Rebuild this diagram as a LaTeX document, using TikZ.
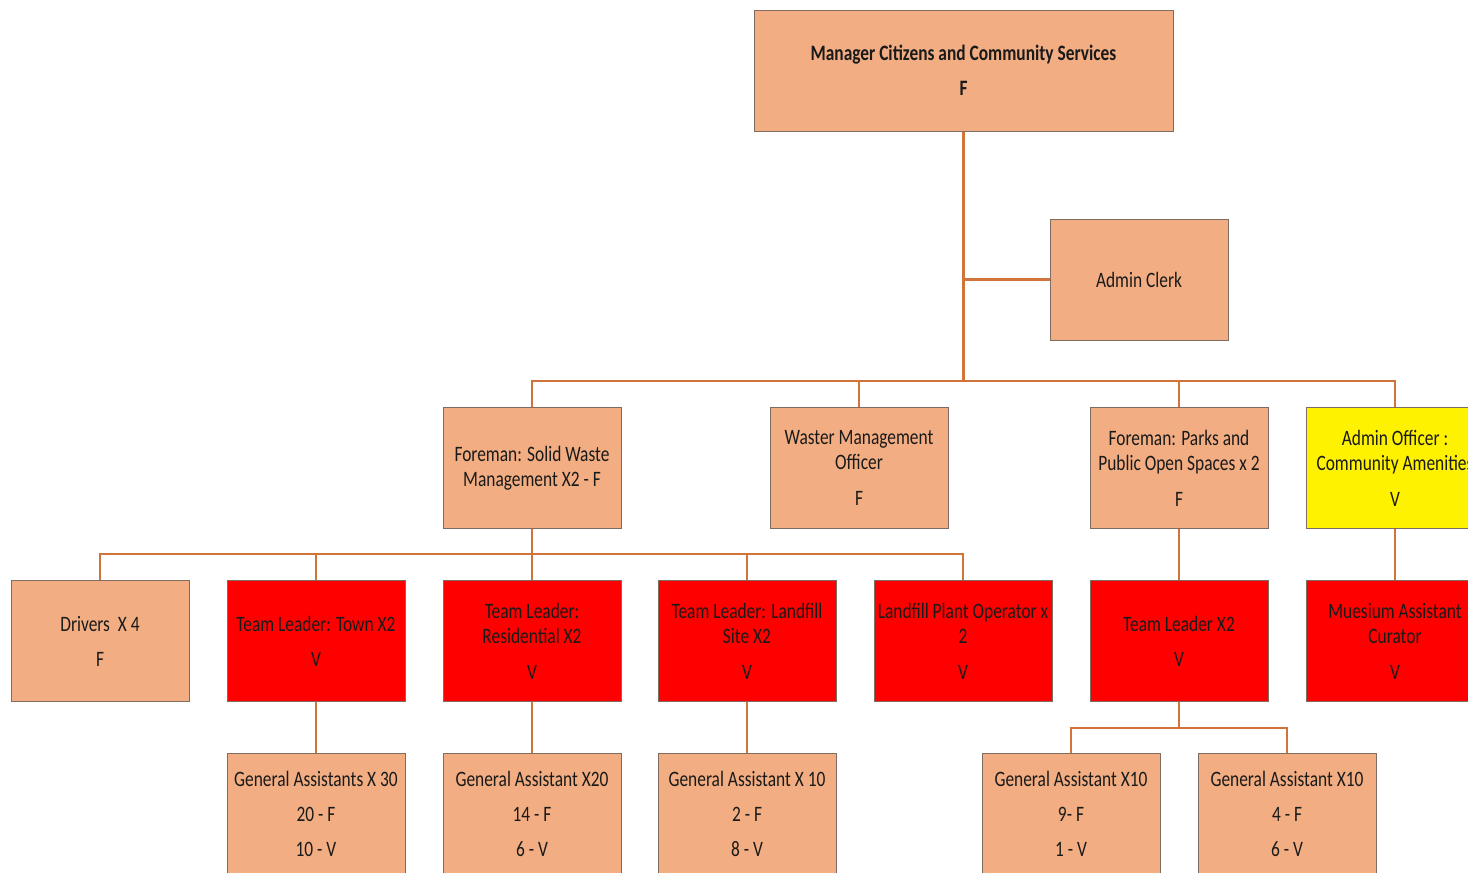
\documentclass[tikz,border=0pt]{standalone}
\usepackage{fontspec}
\setmainfont{Carlito}[FakeStretch=0.79]
\definecolor{peach}{HTML}{F2AE82}
\definecolor{boxline}{HTML}{7F6D62}
\definecolor{linkcol}{HTML}{D0743C}
\definecolor{textcol}{HTML}{1A1A1A}
\begin{document}
\begin{tikzpicture}[x=1pt,y=-1pt,
  box/.style={draw=boxline, line width=1pt, minimum width=178pt, minimum height=121pt,
    inner sep=0pt, align=center, font=\fontsize{22}{25}\selectfont, text=textcol},
  peachbox/.style={box, fill=peach},
  redbox/.style={box, fill=red},
  yellowbox/.style={box, fill=yellow},
  link/.style={draw=linkcol, line width=2.5pt}]
\useasboundingbox (0,0) rectangle (1468,873);
\clip (0,0) rectangle (1468,873);

% top level
\node[peachbox, minimum width=419pt, font=\fontsize{22}{25}\selectfont\bfseries] (mgr) at (963.5,70.5)
  {Manager Citizens and Community Services\\[10pt]F};
\node[peachbox] (clerk) at (1139,279.5) {Admin Clerk};

% second level
\node[peachbox] (fsw) at (532,468) {Foreman: Solid Waste\\Management X2 - F};
\node[peachbox] (wmo) at (859,468) {Waster Management\\Officer\\[11pt]F};
\node[peachbox] (fpk) at (1179,468) {Foreman: Parks and\\Public Open Spaces x 2\\[11pt]F};
\node[yellowbox] (aoc) at (1395,468) {Admin Officer :\\Community Amenities\\[11pt]V};

% third level
\node[peachbox] (drv) at (100,641) {Drivers~ X 4\\[10pt]F};
\node[redbox] (tlt) at (316,641) {Team Leader: Town X2\\[10pt]V};
\node[redbox] (tlr) at (532,641) {Team Leader:\\Residential X2\\[11pt]V};
\node[redbox] (tll) at (747,641) {Team Leader: Landfill\\Site X2\\[11pt]V};
\node[redbox] (lpo) at (963,641) {Landfill Plant Operator x\\2\\[11pt]V};
\node[redbox] (tl2) at (1179,641) {Team Leader X2\\[10pt]V};
\node[redbox] (mus) at (1395,641) {Muesium Assistant\\Curator\\[11pt]V};

% fourth level
\node[peachbox] (ga30) at (316,813.5) {General Assistants X 30\\[10pt]20 - F\\[10pt]10 - V};
\node[peachbox] (ga20) at (532,813.5) {General Assistant X20\\[10pt]14 - F\\[10pt]6 - V};
\node[peachbox] (ga10a) at (747,813.5) {General Assistant X 10\\[10pt]2 - F\\[10pt]8 - V};
\node[peachbox] (ga10b) at (1071,813.5) {General Assistant X10\\[10pt]9- F\\[10pt]1 - V};
\node[peachbox] (ga10c) at (1287,813.5) {General Assistant X10\\[10pt]4 - F\\[10pt]6 - V};

% junction points of the buses
\coordinate (j1) at (963.5,381);
\coordinate (j2) at (532,554);
\coordinate (j3) at (1179,728);

% manager to second level
\draw[link] (mgr.south) -- (j1);
\draw[link] (mgr.south |- clerk.west) -- (clerk.west);
\draw[link] (fsw.north) |- (aoc.north |- j1) -- (aoc.north);
\draw[link] (wmo.north) -- (wmo.north |- j1);
\draw[link] (fpk.north) -- (fpk.north |- j1);

% solid waste foreman to third level
\draw[link] (fsw.south) -- (j2);
\draw[link] (drv.north) |- (lpo.north |- j2) -- (lpo.north);
\draw[link] (tlt.north) -- (tlt.north |- j2);
\draw[link] (tlr.north) -- (tlr.north |- j2);
\draw[link] (tll.north) -- (tll.north |- j2);
\draw[link] (fpk.south) -- (tl2.north);
\draw[link] (aoc.south) -- (mus.north);

% team leaders to fourth level
\draw[link] (tlt.south) -- (ga30.north);
\draw[link] (tlr.south) -- (ga20.north);
\draw[link] (tll.south) -- (ga10a.north);
\draw[link] (tl2.south) -- (j3);
\draw[link] (ga10b.north) |- (ga10c.north |- j3) -- (ga10c.north);
\end{tikzpicture}
\end{document}
